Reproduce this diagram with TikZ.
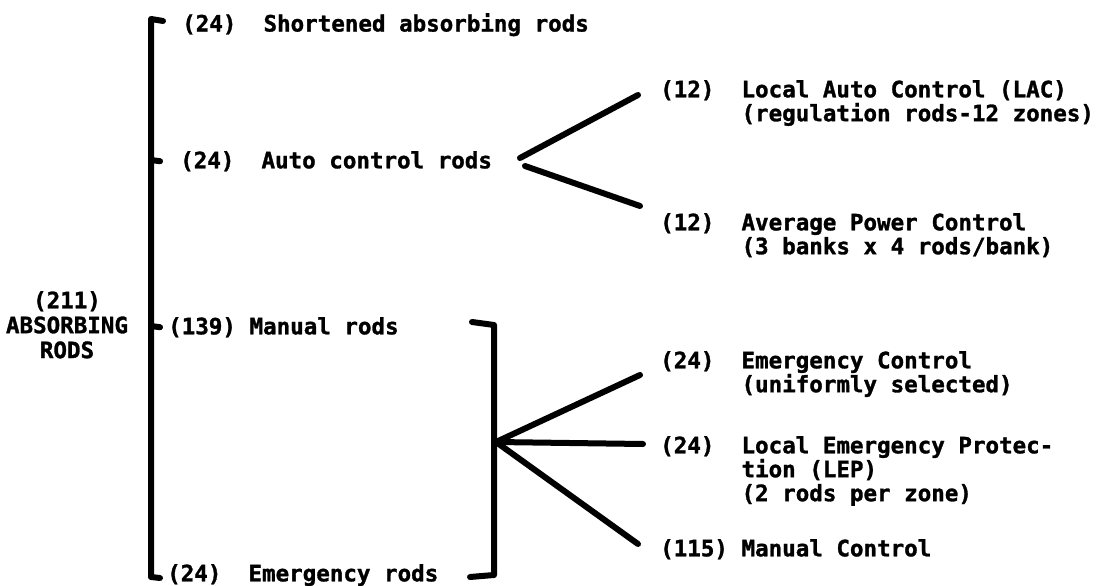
\documentclass[tikz,border=0pt]{standalone}
\usepackage{fontspec}
\newfontfamily\rodfont{DejaVu Sans Mono}[BoldFeatures={FakeBold=1.3}]
\begin{document}
\begin{tikzpicture}[x=1bp,y=-1bp,
  lbl/.style={font=\rodfont\bfseries\fontsize{22.6}{24}\selectfont,
              inner sep=0pt, anchor=north west, align=left},
  rod/.style={line width=6bp, line cap=round, line join=round}]
\useasboundingbox (0,0) rectangle (1116,586);

% total
\node[lbl, anchor=north, align=center,
      font=\rodfont\bfseries\fontsize{22.6}{25}\selectfont] (abs) at (67,291) {(211)\\ABSORBING\\RODS};

% four groups of rods
\node[lbl] (sh) at (182,13)  {(24)~~Shortened absorbing rods};
\node[lbl] (au) at (180,151) {(24)~~Auto control rods};
\node[lbl] (ma) at (168,317) {(139) Manual rods};
\node[lbl] (em) at (167,564) {(24)~~Emergency rods};

% subdivisions
\node[lbl] (lac) at (660,80)  {(12)~~Local Auto Control (LAC)\\\phantom{(12)~~}(regulation rods-12 zones)};
\node[lbl] (apc) at (660,213) {(12)~~Average Power Control\\\phantom{(12)~~}(3 banks x 4 rods/bank)};
\node[lbl] (ec)  at (660,351) {(24)~~Emergency Control\\\phantom{(24)~~}(uniformly selected)};
\node[lbl] (lep) at (660,436) {(24)~~Local Emergency Protec-\\\phantom{(24)~~}tion (LEP)\\\phantom{(24)~~}(2 rods per zone)};
\node[lbl] (mc)  at (660,539) {(115) Manual Control};

% main bracket
\draw[rod] ([shift={(-19,8)}]sh.north west) -- (151,19) -- (151,577)
           -- ([shift={(-7,14)}]em.north west);
\draw[rod] (151,160) -- ([xshift=-20]au.west);
\draw[rod] (151,326) -- ([xshift=-8]ma.west);

% bracket around manual + emergency rods
\draw[rod] (472,322) -- (494,325) -- (494,575) -- (470,577);

% auto control fork
\coordinate (fork) at (522,162);
\draw[rod] ([shift={(-2,-4)}]fork) -- ([shift={(-22,15)}]lac.north west);
\draw[rod] ([shift={(3,4)}]fork) -- ([shift={(-20,-7)}]apc.north west);

% manual rods fan
\coordinate (hub) at (496,442);
\draw[rod] (hub) -- ([shift={(-20,24)}]ec.north west);
\draw[rod] (hub) -- ([shift={(-17,8)}]lep.north west);
\draw[rod] (hub) -- ([shift={(-22,5)}]mc.north west);
\end{tikzpicture}
\end{document}
